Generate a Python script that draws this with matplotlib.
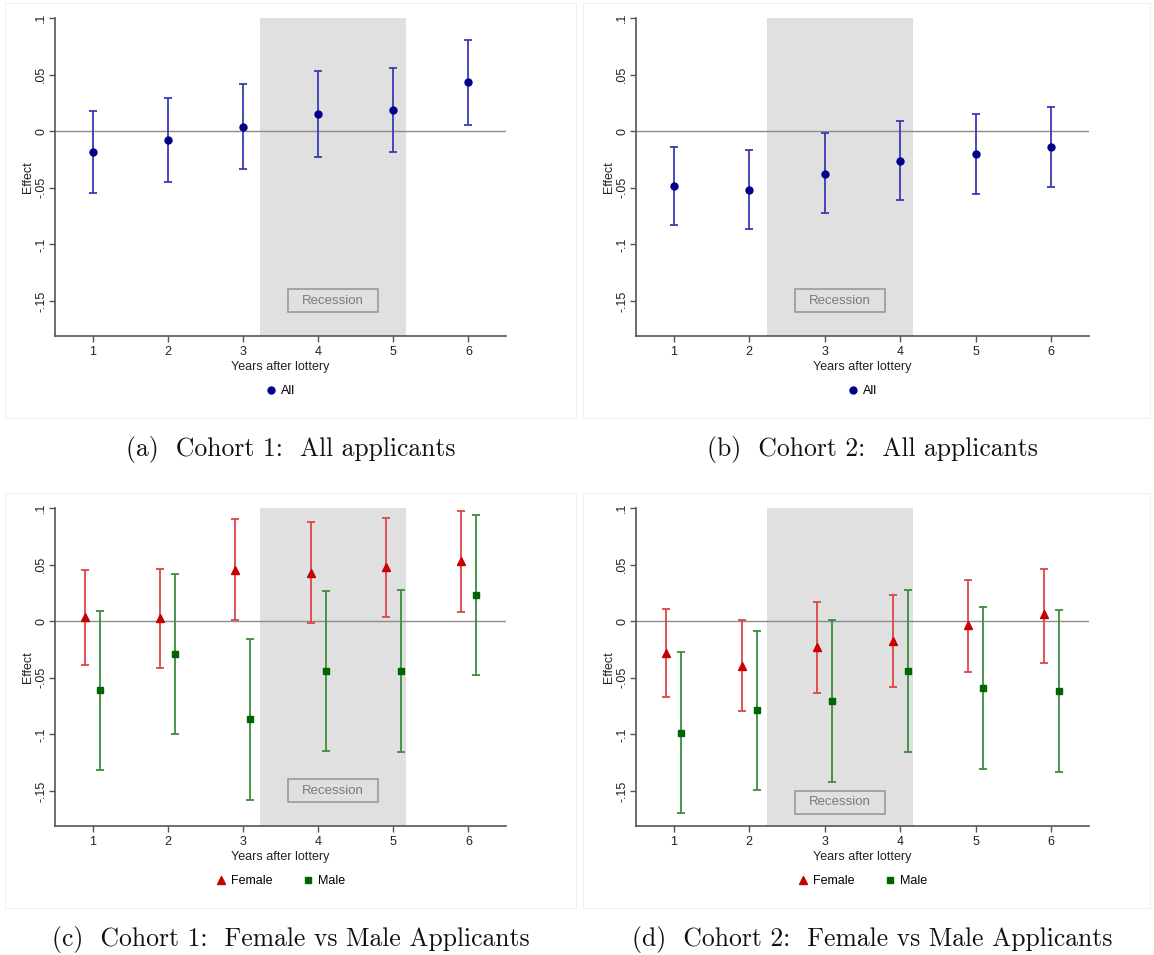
import matplotlib
matplotlib.use("Agg")
from matplotlib import pyplot as plt
from matplotlib.patches import Rectangle
import numpy as np

# data
years = [1, 2, 3, 4, 5, 6]
yticks = [-0.15, -0.1, -0.05, 0, 0.05, 0.1]
yticklabels = ["-.15", "-.1", "-.05", "0", ".05", ".1"]

c1_all = [-0.0185, -0.0076, 0.0038, 0.0153, 0.019, 0.0432]
c1_all_lo = [-0.0547, -0.0447, -0.033, -0.0224, -0.0185, 0.0056]
c1_all_hi = [0.018, 0.029, 0.0415, 0.053, 0.056, 0.081]

c2_all = [-0.0485, -0.0518, -0.0376, -0.0262, -0.0206, -0.0141]
c2_all_lo = [-0.083, -0.0868, -0.0726, -0.061, -0.0553, -0.0497]
c2_all_hi = [-0.0138, -0.0168, -0.002, 0.0094, 0.0153, 0.0215]

c1_fem = [0.0033, 0.0027, 0.045, 0.043, 0.0476, 0.053]
c1_fem_lo = [-0.039, -0.041, 0.0006, -0.0012, 0.0033, 0.0077]
c1_fem_hi = [0.0453, 0.0459, 0.09, 0.0876, 0.0914, 0.0976]
c1_male = [-0.061, -0.029, -0.0867, -0.0444, -0.0444, 0.023]
c1_male_lo = [-0.1317, -0.0994, -0.1577, -0.1151, -0.1157, -0.0476]
c1_male_hi = [0.0089, 0.042, -0.0157, 0.0269, 0.0275, 0.0935]

c2_fem = [-0.0278, -0.0393, -0.0228, -0.0172, -0.0036, 0.0062]
c2_fem_lo = [-0.0669, -0.0796, -0.0636, -0.058, -0.045, -0.0367]
c2_fem_hi = [0.011, 0.0006, 0.0172, 0.0228, 0.0364, 0.0459]
c2_male = [-0.0988, -0.0784, -0.0707, -0.0444, -0.0592, -0.0615]
c2_male_lo = [-0.1698, -0.1488, -0.1417, -0.1154, -0.1302, -0.1331]
c2_male_hi = [-0.0275, -0.0086, 0.0006, 0.0275, 0.0127, 0.0095]

recession = {"a": (3.23, 5.17), "b": (2.23, 4.17), "c": (3.23, 5.17), "d": (2.23, 4.17)}
rec_label_y = {"a": -0.15, "b": -0.15, "c": -0.15, "d": -0.16}

captions = ["(a)  Cohort 1:  All applicants", "(b)  Cohort 2:  All applicants",
            "(c)  Cohort 1:  Female vs Male Applicants", "(d)  Cohort 2:  Female vs Male Applicants"]

blue_pt, blue_bar = "#00008b", "#3a3ab4"
red_pt, red_bar = "#c80000", "#dc4646"
green_pt, green_bar = "#006400", "#3c8c3c"
spine_col = "#555555"
fs = 9

plt.rcParams['font.family'] = ['Liberation Sans', 'DejaVu Sans']

W, H = 1154, 955
fig = plt.figure(figsize=(W / 100, H / 100), dpi=100)

# axes boxes in pixels: left, top, right, bottom
boxes = {"a": (55, 18, 506, 336), "b": (636, 18, 1089, 336),
         "c": (55, 508, 506, 826), "d": (636, 508, 1089, 826)}
frames = {"a": (5, 3, 576, 418), "b": (583, 3, 1150, 418),
          "c": (5, 493, 576, 908), "d": (583, 493, 1150, 908)}


def err(vals, lo, hi):
    v = np.array(vals)
    return [v - np.array(lo), np.array(hi) - v]


def draw(key, series):
    l, t, r, b = boxes[key]
    fl, ft, fr, fb = frames[key]
    fig.add_artist(Rectangle((fl / W, 1 - fb / H), (fr - fl) / W, (fb - ft) / H,
                             transform=fig.transFigure, fill=False, ec="#f0f0f0", lw=0.8))
    ax = fig.add_axes([l / W, 1 - b / H, (r - l) / W, (b - t) / H])
    ax.set_xlim(0.5, 6.5)
    ax.set_ylim(-0.181, 0.1)
    x0, x1 = recession[key]
    ax.axvspan(x0, x1, color="#e0e0e0", lw=0, zorder=0)
    ax.axhline(0, color="#8c8c8c", lw=1, zorder=1)
    xc, yc = (x0 + x1) / 2, rec_label_y[key]
    ax.add_patch(Rectangle((xc - 0.6, yc - 0.0102), 1.2, 0.0204, fc="#e0e0e0",
                           ec="#9a9a9a", lw=1.2, zorder=2))
    ax.text(xc, yc, "Recession", ha="center", va="center", fontsize=fs + 0.5,
            color="#7a7a7a", zorder=2)
    handles = []
    for off, vals, lo, hi, mk, ms, pc, bc, lab in series:
        xs = np.array(years) + off
        ax.errorbar(xs, vals, yerr=err(vals, lo, hi), fmt="none", ecolor=bc,
                    elinewidth=1.3, capsize=3, capthick=1.3, zorder=3)
        h, = ax.plot(xs, vals, mk, color=pc, ms=ms, ls="none", zorder=4, label=lab)
        handles.append(h)
    for s in ["top", "right"]:
        ax.spines[s].set_visible(False)
    for s in ["left", "bottom"]:
        ax.spines[s].set_color(spine_col)
        ax.spines[s].set_linewidth(1.2)
    ax.set_xticks(years)
    ax.set_yticks(yticks)
    ax.set_yticklabels(yticklabels, rotation=90, va="center")
    ax.tick_params(colors=spine_col, labelcolor="#222222", labelsize=fs, length=4, width=1)
    ax.tick_params(axis="y", pad=1.5)
    ax.set_xlabel("Years after lottery", fontsize=fs, labelpad=2, color="#222222")
    ax.set_ylabel("Effect", fontsize=fs, labelpad=1, color="#222222")
    ax.legend(handles=handles, loc="center", bbox_to_anchor=(0.5, -0.173), ncol=len(handles),
              frameon=False, fontsize=fs, handlelength=0.8, handletextpad=0.4,
              columnspacing=2.5)
    return ax


draw("a", [(0, c1_all, c1_all_lo, c1_all_hi, "o", 5, blue_pt, blue_bar, "All")])
draw("b", [(0, c2_all, c2_all_lo, c2_all_hi, "o", 5, blue_pt, blue_bar, "All")])
draw("c", [(-0.1, c1_fem, c1_fem_lo, c1_fem_hi, "^", 6, red_pt, red_bar, "Female"),
           (0.1, c1_male, c1_male_lo, c1_male_hi, "s", 4.5, green_pt, green_bar, "Male")])
draw("d", [(-0.1, c2_fem, c2_fem_lo, c2_fem_hi, "^", 6, red_pt, red_bar, "Female"),
           (0.1, c2_male, c2_male_lo, c2_male_hi, "s", 4.5, green_pt, green_bar, "Male")])

cap_pos = [(291, 449), (872, 449), (291, 939), (872, 939)]
for (cx, cy), txt in zip(cap_pos, captions):
    fig.text(cx / W, 1 - cy / H, txt, ha="center", va="center", fontsize=18.5,
             family="cmr10", color="#111111")

fig.savefig("out.png", dpi=100)
